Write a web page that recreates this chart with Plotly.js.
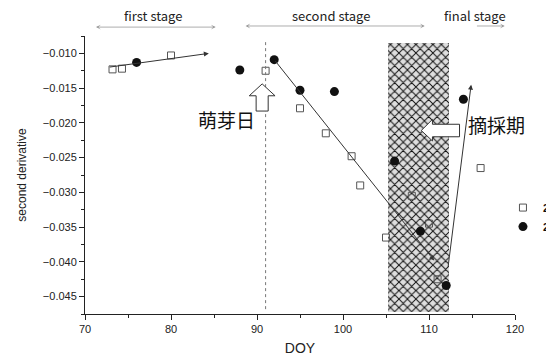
<!DOCTYPE html>
<html>
<head>
<meta charset="utf-8">
<script src="https://cdn.plot.ly/plotly-3.0.1.min.js"></script>
<style>
  html, body { margin: 0; padding: 0; background: #fff; }
  #chart { width: 546px; height: 356px; }
</style>
</head>
<body>
<div id="chart"></div>
<script>
// Second-derivative values by day of year (DOY)
const squareDOY = [73.2, 74.3, 80, 91, 95, 98, 101, 102, 105, 108, 110, 111, 116];
const squareVal = [-0.0123, -0.0122, -0.0103, -0.0125, -0.0179, -0.0215, -0.0248, -0.0290, -0.0365, -0.0305, -0.0345, -0.0425, -0.0265];
const circleDOY = [76, 88, 92, 95, 99, 106, 109, 112, 114];
const circleVal = [-0.0113, -0.0124, -0.0109, -0.0153, -0.0155, -0.0255, -0.0356, -0.0434, -0.0166];
const seriesNames = ['2014', '2015'];

// Plucking period (hatched band) and budbreak day
const harvestDays = [105.2, 112.3];
const harvestBand = [-0.0472, -0.0085];
const budbreakDOY = 91;

// Trend arrows: [tailX, tailY, tipX, tipY]
const trendFirst = [72.7, -0.0120, 84.4, -0.0100];
const trendSecond = [92, -0.0109, 110.6, -0.0398];
const trendFinal = [112.2, -0.0409, 114.9, -0.0145];

// Stage labels above the plot
const stageNames = ['first stage', 'second stage', 'final stage'];
const stageCenters = [77.9, 98.6, 115.3];

const xTicks = [70, 80, 90, 100, 110, 120];

const traces = [
  {
    type: 'bar',
    x: [(harvestDays[0] + harvestDays[1]) / 2],
    width: [harvestDays[1] - harvestDays[0]],
    base: [harvestBand[0]],
    y: [harvestBand[1] - harvestBand[0]],
    marker: {
      color: '#dedede',
      line: { width: 0 },
      pattern: { shape: 'x', fgcolor: '#111', bgcolor: '#dedede', size: 6, solidity: 0.3 }
    },
    showlegend: false,
    hoverinfo: 'skip'
  },
  {
    type: 'scatter', mode: 'markers', name: seriesNames[0],
    x: squareDOY, y: squareVal,
    marker: { symbol: 'square-open', size: 7, color: '#555', line: { width: 1, color: '#555' } },
    cliponaxis: false
  },
  {
    type: 'scatter', mode: 'markers', name: seriesNames[1],
    x: circleDOY, y: circleVal,
    marker: { symbol: 'circle', size: 9, color: '#111' },
    cliponaxis: false
  }
];

function trendArrow(t, head) {
  return {
    x: t[2], y: t[3], ax: t[0], ay: t[1],
    xref: 'x', yref: 'y', axref: 'x', ayref: 'y',
    text: '', showarrow: true,
    arrowhead: head, arrowsize: 1, arrowwidth: 1, arrowcolor: '#333', standoff: 0
  };
}

const annotations = [
  trendArrow(trendFirst, 2),
  trendArrow(trendSecond, 2),
  trendArrow(trendFinal, 2),
  // Stage spans
  { x: 85.2, y: 1.032, ax: 71.1, ay: 1.032, xref: 'x', yref: 'paper', axref: 'x', ayref: 'paper',
    text: '', showarrow: true, arrowside: 'end+start', arrowhead: 3, arrowsize: 1, arrowwidth: 0.8, arrowcolor: '#999' },
  { x: 109.5, y: 1.036, ax: 88.5, ay: 1.036, xref: 'x', yref: 'paper', axref: 'x', ayref: 'paper',
    text: '', showarrow: true, arrowside: 'end+start', arrowhead: 3, arrowsize: 1, arrowwidth: 0.8, arrowcolor: '#999' },
  { x: 118.8, y: 1.036, ax: 115.4, ay: 1.036, xref: 'x', yref: 'paper', axref: 'x', ayref: 'paper',
    text: '', showarrow: true, arrowhead: 3, arrowsize: 1, arrowwidth: 0.8, arrowcolor: '#999' },
  // Callout labels
  { x: 86.45, y: -0.0195, xref: 'x', yref: 'y', text: '萌芽日', showarrow: false,
    font: { family: 'Noto Sans CJK JP', size: 19, color: '#111' } },
  { x: 117.9, y: -0.0203, xref: 'x', yref: 'y', text: '摘採期', showarrow: false,
    font: { family: 'Noto Sans CJK JP', size: 19, color: '#111' } }
];

stageNames.forEach((s, i) => {
  annotations.push({
    x: stageCenters[i], y: 1.072, xref: 'x', yref: 'paper', yanchor: 'middle', xanchor: 'center',
    text: s, showarrow: false,
    font: { family: 'Noto Sans CJK JP', size: 13, color: '#222' }
  });
});

// Hollow block arrows: up at budbreak, left toward the plucking band
const upArrow = 'M 90.6 -0.01439 L 92.1 -0.0161 L 91.3 -0.0161 L 91.3 -0.0183 L 89.9 -0.0183 L 89.9 -0.0161 L 89.1 -0.0161 Z';
const leftArrow = 'M 109.1 -0.0211 L 110.4 -0.0195 L 110.4 -0.0202 L 113.55 -0.0202 L 113.55 -0.0220 L 110.4 -0.0220 L 110.4 -0.0226 Z';

const shapes = [
  { type: 'line', xref: 'x', yref: 'y', x0: budbreakDOY, x1: budbreakDOY, y0: -0.0468, y1: -0.0080,
    line: { color: '#777', width: 1, dash: 'dot' } },
  { type: 'path', xref: 'x', yref: 'y', path: upArrow, fillcolor: '#fff', line: { color: '#333', width: 1 } },
  { type: 'path', xref: 'x', yref: 'y', path: leftArrow, fillcolor: '#fff', line: { color: '#333', width: 1 } }
];

const layout = {
  width: 546, height: 356,
  margin: { l: 85, r: 31, t: 36, b: 42, autoexpand: false },
  paper_bgcolor: '#fff', plot_bgcolor: '#fff',
  font: { family: 'Liberation Sans', color: '#222' },
  showlegend: true,
  legend: {
    x: 0.972, xanchor: 'left', y: 0.435, yanchor: 'top',
    font: { size: 11, color: '#111', weight: 'bold' },
    bgcolor: 'rgba(0,0,0,0)', tracegroupgap: 0
  },
  xaxis: {
    range: [70, 120], tickvals: xTicks, ticks: 'outside', ticklen: 5, tickcolor: '#222',
    minor: { dtick: 5, tick0: 70, ticks: 'outside', ticklen: 3, tickcolor: '#222' },
    showline: true, linecolor: '#222', linewidth: 1, showgrid: false, zeroline: false,
    automargin: false,
    tickfont: { family: 'Liberation Sans', size: 11, color: '#222' },
    title: { text: 'DOY', font: { family: 'Liberation Sans', size: 14, color: '#222' }, standoff: 9 }
  },
  yaxis: {
    range: [-0.0475, -0.0075], tick0: -0.010, dtick: 0.005, tickformat: '.3f',
    ticks: 'outside', ticklen: 5, tickcolor: '#222',
    minor: { dtick: 0.0025, ticks: 'outside', ticklen: 3, tickcolor: '#222' },
    showline: true, linecolor: '#222', linewidth: 1, showgrid: false, zeroline: false,
    automargin: false,
    tickfont: { family: 'Liberation Sans', size: 11, color: '#222' },
    title: { text: 'second derivative', font: { family: 'Liberation Sans', size: 12, color: '#222' }, standoff: 13 }
  },
  bargap: 0,
  annotations: annotations,
  shapes: shapes
};

Plotly.newPlot('chart', traces, layout, { displayModeBar: false, staticPlot: true });
</script>
</body>
</html>
